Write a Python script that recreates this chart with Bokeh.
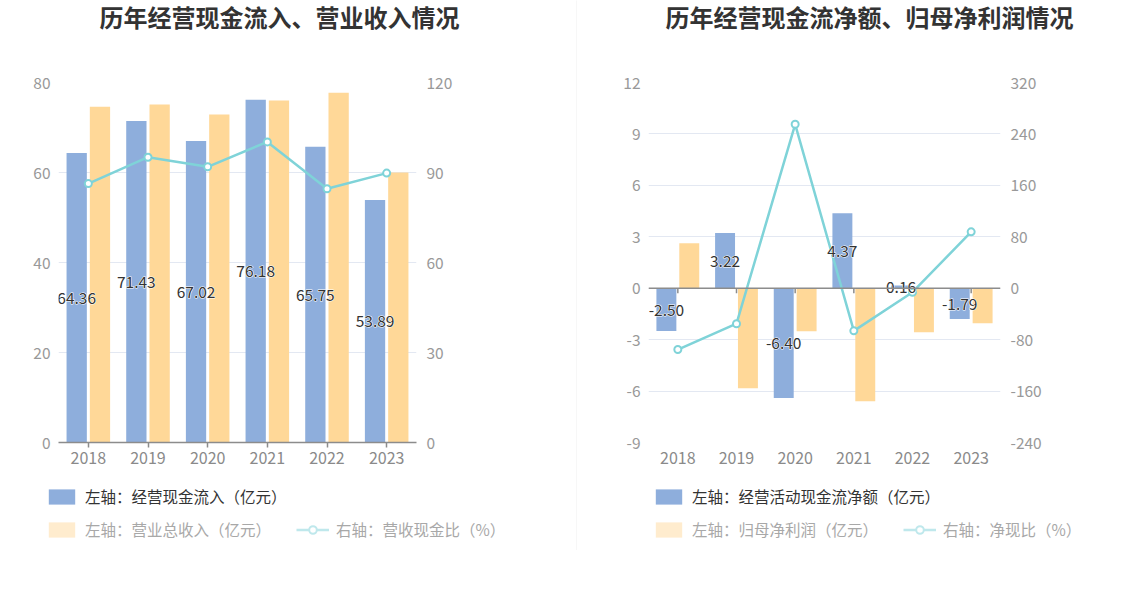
from bokeh.plotting import figure
from bokeh.models import (ColumnDataSource, FactorRange, Range1d, LinearAxis, FixedTicker,
                          Legend, LegendItem, Label, Span)
from bokeh.layouts import row, column
from bokeh.transform import dodge
from bokeh.core.properties import value
from bokeh.embed import file_html
from bokeh.resources import INLINE

# ---------------- data ----------------
years = ["2018", "2019", "2020", "2021", "2022", "2023"]

# chart 1
cash_inflow = [64.36, 71.43, 67.02, 76.18, 65.75, 53.89]      # 经营现金流入 (亿元)
revenue = [74.6, 75.1, 72.9, 76.0, 77.7, 60.0]                # 营业总收入 (亿元)
inflow_ratio = [86.3, 95.1, 91.9, 100.2, 84.6, 89.8]          # 营收现金比 (%)
left_ticks_1 = [0, 20, 40, 60, 80]
right_ticks_1 = [0, 30, 60, 90, 120]

# chart 2
net_cash = [-2.50, 3.22, -6.40, 4.37, 0.16, -1.79]            # 经营活动现金流净额 (亿元)
net_profit = [2.62, -5.83, -2.51, -6.59, -2.57, -2.04]        # 归母净利润 (亿元)
net_ratio = [-95.4, -55.2, 255.0, -66.3, -6.2, 87.7]          # 净现比 (%)
left_ticks_2 = [-9, -6, -3, 0, 3, 6, 9, 12]
right_ticks_2 = [-240, -160, -80, 0, 80, 160, 240, 320]

titles = ["历年经营现金流入、营业收入情况", "历年经营现金流净额、归母净利润情况"]
legend_1 = ["左轴：经营现金流入（亿元）", "左轴：营业总收入（亿元）", "右轴：营收现金比（%）"]
legend_2 = ["左轴：经营活动现金流净额（亿元）", "左轴：归母净利润（亿元）", "右轴：净现比（%）"]

# ---------------- style ----------------
FONT = "Noto Sans CJK SC"
BLUE = "#8eaedc"
YELLOW = "#ffd898"
CYAN = "#7fd3d8"
PALE_Y = "#ffecce"
PALE_C = "#bfe8ec"
GRID = "#e3e8f2"
AXIS = "#8c8c8c"
TICK_TXT = "#999999"
NAN = float("nan")

TITLE_H = 62
CHART_H = 420
LEGEND_H = 68


def blank_fig(width, height):
    f = figure(width=width, height=height, x_range=Range1d(0, width),
               y_range=Range1d(0, height), x_axis_location=None, y_axis_location=None,
               min_border=0, min_border_left=0, min_border_right=0, min_border_top=0,
               min_border_bottom=0, outline_line_color=None, toolbar_location=None,
               output_backend="svg", background_fill_color="white",
               border_fill_color="white", frame_align=False)
    f.grid.visible = False
    return f


def make_panel(title, width, bl, a, b, ratio, lt, rt, labels, sw_x, title_cx, zero_axis):
    # ---- title ----
    t = blank_fig(width, TITLE_H)
    t.add_layout(Label(x=title_cx, y=TITLE_H - 16, text=title, text_align="center",
                       text_baseline="middle", text_font=FONT, text_font_size="24px",
                       text_font_style="bold", text_color="#333333"))

    # ---- chart ----
    frame_w = {True: 352, False: 358}[zero_axis]
    p = figure(width=width, height=CHART_H, x_range=FactorRange(*years),
               y_range=Range1d(lt[0], lt[-1]), output_backend="svg",
               toolbar_location=None, min_border_left=bl,
               min_border_right=width - bl - frame_w,
               min_border_top=20, min_border_bottom=CHART_H - 20 - 360,
               outline_line_color=None, background_fill_color="white",
               border_fill_color="white", frame_align=False)
    p.x_range.range_padding = 0
    p.yaxis.ticker = FixedTicker(ticks=lt)
    p.ygrid.ticker = FixedTicker(ticks=lt)
    p.ygrid.grid_line_color = GRID
    p.ygrid.grid_line_width = 1
    p.xgrid.grid_line_color = None

    p.extra_y_ranges = {"r": Range1d(rt[0], rt[-1])}
    raxis = LinearAxis(y_range_name="r", ticker=FixedTicker(ticks=rt))
    p.add_layout(raxis, "right")

    for ax, ticks in ((p.yaxis[0], lt), (raxis, rt)):
        ax.axis_line_color = None
        ax.major_tick_line_color = None
        ax.minor_tick_line_color = None
        ax.major_tick_out = 0
        ax.major_tick_in = 0
        ax.minor_tick_out = 0
        ax.major_label_text_color = TICK_TXT
        ax.major_label_text_font = FONT
        ax.major_label_text_font_size = "15.5px"
        ax.major_label_overrides = {tk: str(tk) for tk in ticks}
    p.yaxis[0].major_label_standoff = 8
    raxis.major_label_standoff = 10

    xa = p.xaxis[0]
    xa.major_label_text_color = "#8a8a8a"
    xa.major_label_text_font = FONT
    xa.major_label_text_font_size = "16px"
    xa.minor_tick_line_color = None
    xa.minor_tick_out = 0
    if zero_axis:
        xa.axis_line_color = None
        xa.major_tick_line_color = None
        xa.major_tick_out = 0
        xa.major_tick_in = 0
        xa.major_label_standoff = 9
    else:
        xa.axis_line_color = AXIS
        xa.axis_line_width = 1.5
        xa.major_tick_line_color = AXIS
        xa.major_tick_line_width = 1.5
        xa.major_tick_out = 5
        xa.major_tick_in = 0
        xa.major_label_standoff = 4

    src = ColumnDataSource(dict(year=years, a=a, b=b, r=ratio,
                                mid=[v / 2 for v in a],
                                lab=[f"{v:.2f}" for v in a]))

    p.vbar(x=dodge("year", -0.195, range=p.x_range), top="a", width=0.34,
           source=src, fill_color=BLUE, line_color=None)
    p.vbar(x=dodge("year", 0.195, range=p.x_range), top="b", width=0.34,
           source=src, fill_color=YELLOW, line_color=None)

    if zero_axis:
        p.add_layout(Span(location=0, dimension="width", line_color=AXIS, line_width=1.5))
        p.segment(x0="year", y0=0, x1="year", y1=-(lt[-1] - lt[0]) / 360 * 5,
                  source=src, line_color=AXIS, line_width=1.5)

    p.line("year", "r", source=src, y_range_name="r", line_color=CYAN, line_width=2.5)
    p.scatter("year", "r", source=src, y_range_name="r", size=7, fill_color="white",
              line_color=CYAN, line_width=2)

    # value labels with a white halo
    for col, outline in (("white", "white"), ("#333333", None)):
        p.text(x=dodge("year", -0.195, range=p.x_range), y="mid", text="lab", source=src,
               text_align="center", text_baseline="middle", text_font=value(FONT),
               text_font_size="15.5px", text_color=col, text_outline_color=outline)

    # ---- legend (legend-only renderers hold no visible data) ----
    lg = blank_fig(width, LEGEND_H)
    r_blue = lg.vbar(x=[NAN], top=[NAN], width=1, fill_color=BLUE, line_color=None)
    r_yel = lg.vbar(x=[NAN], top=[NAN], width=1, fill_color=PALE_Y, line_color=None)
    r_line = lg.line(x=[NAN], y=[NAN], line_color=PALE_C, line_width=2.5)
    r_pt = lg.scatter(x=[NAN], y=[NAN], size=11, fill_color="white", line_color=PALE_C,
                      line_width=2)
    common = dict(orientation="horizontal", margin=0, padding=0, spacing=25,
                  glyph_width=33, glyph_height=19, label_standoff=7, label_height=19,
                  label_text_font=FONT, label_text_font_size="15.5px",
                  label_text_baseline="middle",
                  background_fill_alpha=0, border_line_color=None)
    leg1 = Legend(items=[LegendItem(label=labels[0], renderers=[r_blue])],
                  location=(sw_x, LEGEND_H - 25), label_text_color="#333333", **common)
    leg2 = Legend(items=[LegendItem(label=labels[1], renderers=[r_yel]),
                         LegendItem(label=labels[2], renderers=[r_line, r_pt])],
                  location=(sw_x, LEGEND_H - 58), label_text_color="#a8a8a8", **common)
    lg.add_layout(leg1)
    lg.add_layout(leg2)

    return column(t, p, lg, spacing=0)


panel1 = make_panel(titles[0], 576, 58, cash_inflow, revenue, inflow_ratio,
                    left_ticks_1, right_ticks_1, legend_1, 45, 279, False)
panel2 = make_panel(titles[1], 571, 71, net_cash, net_profit, net_ratio,
                    left_ticks_2, right_ticks_2, legend_2, 75, 292, True)

divider = blank_fig(1, TITLE_H + CHART_H + LEGEND_H)
divider.background_fill_color = "#f0f0f0"
divider.border_fill_color = "#f0f0f0"

layout = row(panel1, divider, panel2, spacing=0)
open("out.html", "w").write(file_html(layout, INLINE))
